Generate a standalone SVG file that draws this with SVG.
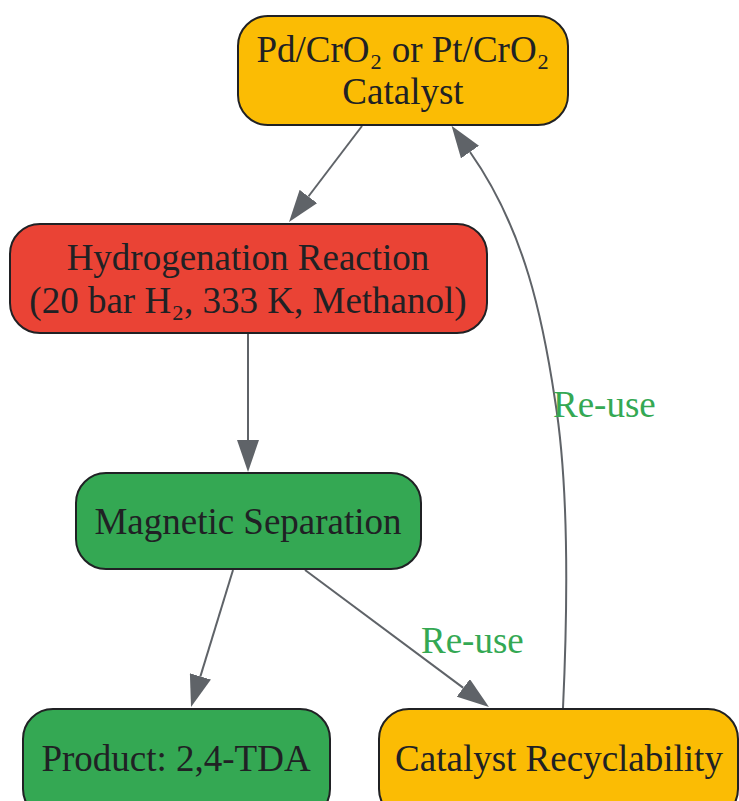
<svg xmlns="http://www.w3.org/2000/svg" width="739" height="801" viewBox="0 0 739 801">
<style>
  .node { stroke: #202124; stroke-width: 2; }
  .yellow { fill: #fbbc04; }
  .red { fill: #ea4335; }
  .green { fill: #34a853; }
  .t { font-family: "Liberation Serif", "Times New Roman", serif; font-size: 37px; fill: #202124; text-anchor: middle; }
  .edge { fill: none; stroke: #5f6368; stroke-width: 2; }
  .lbl { font-family: "Liberation Serif", "Times New Roman", serif; font-size: 37px; fill: #34a853; }
</style>
<defs>
  <marker id="ah" markerWidth="32" markerHeight="22" refX="0" refY="11" orient="auto" markerUnits="userSpaceOnUse">
    <path d="M0,0 L32,11 L0,22 z" fill="#5f6368"/>
  </marker>
</defs>
<rect width="739" height="801" fill="#ffffff"/>
<g id="edges">
  <path class="edge" d="M362,126 L308.4,196.5" marker-end="url(#ah)"/>
  <path class="edge" d="M248,334 L248,440" marker-end="url(#ah)"/>
  <path class="edge" d="M233,570 L200.4,676.4" marker-end="url(#ah)"/>
  <path class="edge" d="M305,570 L463.3,687.9" marker-end="url(#ah)"/>
  <text class="lbl" x="421" y="653">Re-use</text>
  <path class="edge" d="M563,708 C568,600 568,480 555,400 C543,320 525,230 470,152" marker-end="url(#ah)"/>
  <text class="lbl" x="553" y="417">Re-use</text>
</g>
<g id="catalyst">
  <rect class="node yellow" x="238" y="16" width="330" height="109" rx="30"/>
  <text class="t" x="403" y="62">Pd/CrO₂ or Pt/CrO₂</text>
  <text class="t" x="403" y="104">Catalyst</text>
</g>
<g id="hydrogenation">
  <rect class="node red" x="10" y="224" width="477" height="109" rx="30"/>
  <text class="t" x="248" y="270">Hydrogenation Reaction</text>
  <text class="t" x="248" y="313">(20 bar H₂, 333 K, Methanol)</text>
</g>
<g id="separation">
  <rect class="node green" x="76" y="473" width="345" height="96" rx="30"/>
  <text class="t" x="248" y="534">Magnetic Separation</text>
</g>
<g id="product">
  <rect class="node green" x="23" y="709" width="307" height="110" rx="30"/>
  <text class="t" x="176" y="771">Product: 2,4-TDA</text>
</g>
<g id="recyclability">
  <rect class="node yellow" x="379" y="709" width="359" height="110" rx="30"/>
  <text class="t" x="559" y="771">Catalyst Recyclability</text>
</g>
</svg>
